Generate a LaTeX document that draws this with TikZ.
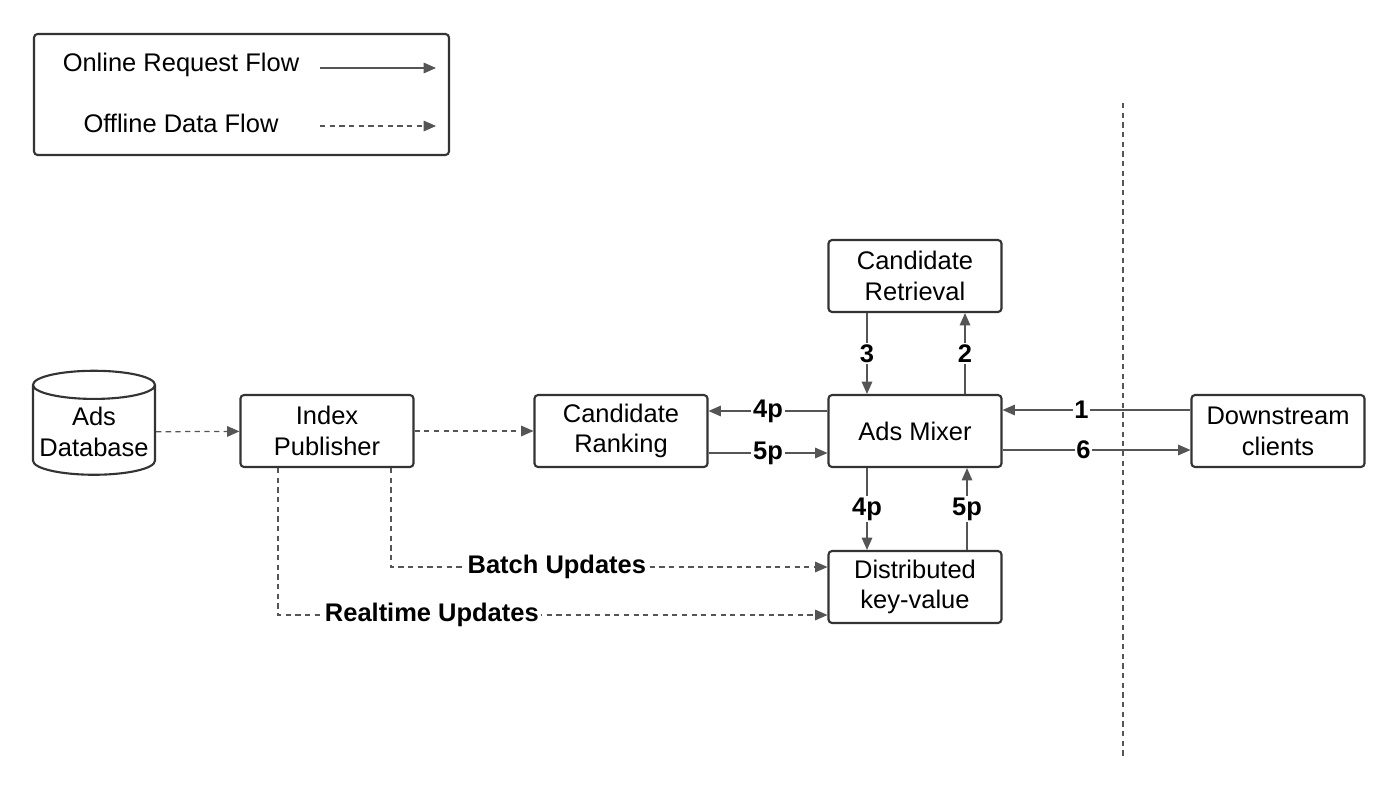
\documentclass[tikz,border=0pt]{standalone}
\usepackage{fontspec}
\setmainfont{Liberation Sans}
\usepackage{tikz}
\usetikzlibrary{positioning}
\usetikzlibrary{arrows.meta}
\usetikzlibrary{shapes.geometric}
\definecolor{edgegray}{HTML}{555555}
\definecolor{boxgray}{HTML}{333333}
\tikzset{ad_flow/.style={-{Triangle[length=7pt,width=6pt]},draw=edgegray,line width=0.7pt}}
\tikzset{ad_offline/.style={ad_flow,dash pattern=on 3pt off 2.5pt}}
\tikzset{ad_box/.style={draw=boxgray,line width=1.2pt,rounded corners=2pt,minimum width=3.46cm,minimum height=1.44cm,inner sep=1pt,align=center,font=\fontsize{14.5}{17.5}\selectfont}}
\tikzset{ad_num/.style={fill=white,inner sep=1pt,font=\bfseries\fontsize{14.5}{17.5}\selectfont}}

\begin{document}
\begin{tikzpicture}[x=0.02cm,y=-0.02cm]
    \useasboundingbox (0,0) rectangle (1400,795);
    % legend
    \node[ad_box,minimum width=8.3cm,minimum height=2.42cm] (legend) at (241.5,94.5) {};
    \node[font=\fontsize{14.5}{17.5}\selectfont] (online) at (181,65) {Online Request Flow};
    \node[font=\fontsize{14.5}{17.5}\selectfont] (offline) at (181,123) {Offline Data Flow};
    \coordinate (on_a) at (320,68);  \coordinate (on_b) at (436,68);
    \coordinate (off_a) at (320,126); \coordinate (off_b) at (436,126);
    \draw[ad_flow] (on_a) -- (on_b);
    \draw[ad_offline] (off_a) -- (off_b);

    % blocks
    \node[cylinder,shape border rotate=90,aspect=0.25,draw=boxgray,line width=1.2pt,
          minimum width=2.44cm,minimum height=2.08cm,inner sep=1pt,align=center,
          font=\fontsize{14.5}{17.5}\selectfont] (db) at (94,432) {Ads\\Database};
    \node[ad_box] (publisher) at (327,431) {Index\\Publisher};
    \node[ad_box] (ranking) at (621,431) {Candidate\\Ranking};
    \node[ad_box] (mixer) at (915,431) {Ads Mixer};
    \node[ad_box] (retrieval) at (915,276) {Candidate\\Retrieval};
    \node[ad_box] (kv) at (915,587) {Distributed\\key-value};
    \node[ad_box] (clients) at (1278,431) {Downstream\\clients};
    \coordinate (sep_top) at (1123,103);
    \coordinate (sep_bot) at (1123,760);
    \draw[edgegray,line width=0.7pt,dash pattern=on 3pt off 2.5pt] (sep_top) -- (sep_bot);

    % offline
    \draw[ad_offline] (db) -- (publisher);
    \draw[ad_offline] (publisher) -- (ranking);
    \draw[ad_offline] (publisher.south -| 391,0) |- node[ad_num,pos=0.69] {Batch Updates} (kv.west |- 0,567);
    \draw[ad_offline] (publisher.south -| 278,0) |- node[ad_num,pos=0.64] {Realtime Updates} (kv.west |- 0,615);

    % online
    \draw[ad_flow] (mixer.west |- 0,411) -- node[ad_num] {4p} (ranking.east |- 0,411);
    \draw[ad_flow] (ranking.east |- 0,453) -- node[ad_num] {5p} (mixer.west |- 0,453);
    \draw[ad_flow] (retrieval.south -| 867,0) -- node[ad_num] {3} (mixer.north -| 867,0);
    \draw[ad_flow] (mixer.north -| 965,0) -- node[ad_num] {2} (retrieval.south -| 965,0);
    \draw[ad_flow] (mixer.south -| 867,0) -- node[ad_num] {4p} (kv.north -| 867,0);
    \draw[ad_flow] (kv.north -| 967,0) -- node[ad_num] {5p} (mixer.south -| 967,0);
    \draw[ad_flow] (clients.west |- 0,410) -- node[ad_num,pos=0.58] {1} (mixer.east |- 0,410);
    \draw[ad_flow] (mixer.east |- 0,450) -- node[ad_num,pos=0.43] {6} (clients.west |- 0,450);
\end{tikzpicture}
\end{document}
